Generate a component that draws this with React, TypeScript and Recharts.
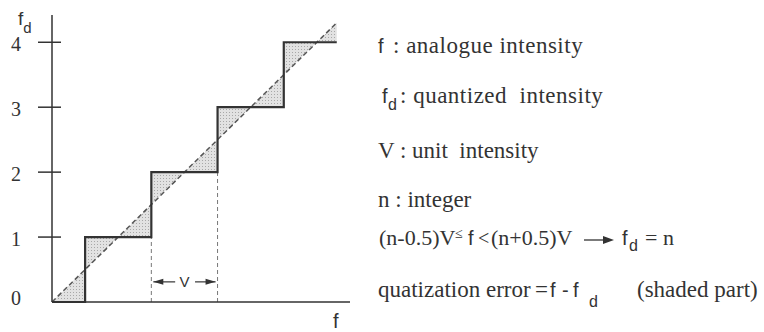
import React from 'react';
import {
  ComposedChart, Line, Area, XAxis, YAxis, ReferenceLine, ReferenceDot, Scatter, Label,
} from 'recharts';

// quantization staircase: f_d = n for (n-0.5)V <= f < (n+0.5)V
const levels = [0, 1, 2, 3, 4];
const jumps = [0.5, 1.5, 2.5, 3.5];
const fEnd = 4.3;
const yTicks = [0, 1, 2, 3, 4];
const guides = [1.5, 2.5];
const vArrowY = 0.31;
const vArrowEnds = [1.53, 2.47];
const vArrowGap = [1.86, 2.16];

const rows = levels.flatMap((n, i) => {
  const from = i === 0 ? 0 : jumps[i - 1];
  const to = i < jumps.length ? jumps[i] : fEnd;
  return [from, n, to].map(f => ({ f, step: n, diag: f, band: [Math.min(f, n), Math.max(f, n)] }));
});

const heads = [
  { f: vArrowEnds[0], y: vArrowY, dir: -1 },
  { f: vArrowEnds[1], y: vArrowY, dir: 1 },
];

const ink = '#333';
const serif = 'Liberation Serif';
const sans = 'Liberation Sans';
const sp = '\u00a0';

const YTick = ({ x, y, payload }: any) => (
  <g>
    {payload.value !== 0 && (
      <line x1={x - 14} x2={x + 9} y1={y} y2={y} stroke={ink} strokeWidth={1.5} />
    )}
    <text x={x - 36} y={y + (payload.value === 0 ? 3 : 9)} textAnchor="middle"
      fontFamily={serif} fontSize={20} fill={ink}>{payload.value}</text>
  </g>
);

const Head = ({ cx, cy, payload }: any) => {
  const d = payload.dir;
  return <polygon points={`${cx},${cy} ${cx - d * 10},${cy - 3} ${cx - d * 10},${cy + 3}`} fill={ink} />;
};

export default function App() {
  return (
    <div style={{ position: 'absolute', left: 0, top: 0, width: 764, height: 332, background: '#fff' }}>
      <ComposedChart width={764} height={332} data={rows}
        margin={{ top: 15, right: 414, bottom: 0, left: 0 }}>
        <XAxis dataKey="f" type="number" domain={[0, 4.5]} height={30}
          tick={false} tickLine={false} axisLine={{ stroke: ink, strokeWidth: 1.5 }}>
          <Label content={({ viewBox }: any) => (
            <text x={viewBox.x + viewBox.width - 17} y={viewBox.y + 26}
              fontFamily={sans} fontSize={20} fill={ink}>f</text>
          )} />
        </XAxis>
        <YAxis type="number" domain={[0, 4.42]} ticks={yTicks} width={52}
          tickSize={0} tickMargin={0} tickLine={false} tick={<YTick />}
          axisLine={{ stroke: ink, strokeWidth: 1.5 }}>
          <Label content={({ viewBox }: any) => (
            <text x={viewBox.x + 18} y={viewBox.y + 10} fontFamily={sans} fill={ink}>
              <tspan fontSize={19}>f</tspan>
              <tspan fontSize={15} dy={8}>d</tspan>
            </text>
          )} />
        </YAxis>
        <Area dataKey="band" type="linear" fill="url(#stipple)" fillOpacity={1} stroke="none"
          isAnimationActive={false} />
        {guides.map(g => (
          <ReferenceLine key={g} segment={[{ x: g, y: 0 }, { x: g, y: g - 0.5 }]}
            stroke="#777" strokeWidth={1} strokeDasharray="4 3" />
        ))}
        <ReferenceLine segment={[{ x: vArrowEnds[0], y: vArrowY }, { x: vArrowGap[0], y: vArrowY }]}
          stroke={ink} strokeWidth={1.2} />
        <ReferenceLine segment={[{ x: vArrowGap[1], y: vArrowY }, { x: vArrowEnds[1], y: vArrowY }]}
          stroke={ink} strokeWidth={1.2} />
        <ReferenceDot x={2} y={vArrowY} r={0} shape={({ cx, cy }: any) => (
          <text x={cx} y={cy + 5} textAnchor="middle" fontFamily={sans} fontSize={15} fill={ink}>V</text>
        )} />
        <Scatter data={heads} dataKey="y" shape={<Head />} isAnimationActive={false} />
        <Line dataKey="diag" type="linear" stroke="#555" strokeWidth={1.5} strokeDasharray="5 3"
          dot={false} activeDot={false} isAnimationActive={false} />
        <Line dataKey="step" type="linear" stroke={ink} strokeWidth={2.2}
          dot={false} activeDot={false} isAnimationActive={false} />
      </ComposedChart>
      <svg width={764} height={332} style={{ position: 'absolute', left: 0, top: 0, pointerEvents: 'none' }}>
        <defs>
          <pattern id="stipple" width={3} height={3} patternUnits="userSpaceOnUse">
            <rect width={3} height={3} fill="#e2e2e2" />
            <rect x={1} y={1} width={1} height={1} fill="#a8a8a8" />
          </pattern>
        </defs>
        <g fill={ink} fontFamily={serif} fontSize={23}>
          <text y={53}>
            <tspan x={378} fontFamily={sans} fontSize={20}>f</tspan>
            <tspan x={393} letterSpacing={0.5}>: analogue intensity</tspan>
          </text>
          <text y={103}>
            <tspan x={382} fontFamily={sans} fontSize={20}>f</tspan>
            <tspan x={388} y={110} fontFamily={sans} fontSize={16}>d</tspan>
            <tspan x={400} y={103} letterSpacing={0.5}>{`: quantized${sp} intensity`}</tspan>
          </text>
          <text x={378} y={158}>{`V : unit${sp} intensity`}</text>
          <text x={378} y={207}>n : integer</text>
          <text y={245} fontSize={22}>
            <tspan x={379}>(n-0.5)V</tspan>
            <tspan x={455} y={238} fontSize={14}>≤</tspan>
            <tspan x={468} y={245} fontFamily={sans} fontSize={20}>f</tspan>
            <tspan x={478} fontSize={20}>{'<'}</tspan>
            <tspan x={491}>(n+0.5)V</tspan>
            <tspan x={622} fontFamily={sans} fontSize={20}>f</tspan>
            <tspan x={629} y={251} fontFamily={sans} fontSize={16}>d</tspan>
            <tspan x={645} y={245}>= n</tspan>
          </text>
          <line x1={584} x2={606} y1={240} y2={240} stroke={ink} strokeWidth={1.3} />
          <polygon points="614,240 603,236 603,244" fill={ink} />
          <text y={297}>
            <tspan x={378}>quatization error</tspan>
            <tspan x={535}>=</tspan>
            <tspan x={550} fontFamily={sans} fontSize={20}>f</tspan>
            <tspan x={562} fontFamily={sans} fontSize={20}>-</tspan>
            <tspan x={573} fontFamily={sans} fontSize={20}>f</tspan>
            <tspan x={589} y={307} fontFamily={sans} fontSize={16}>d</tspan>
            <tspan x={637} y={297}>(shaded part)</tspan>
          </text>
        </g>
      </svg>
    </div>
  );
}
